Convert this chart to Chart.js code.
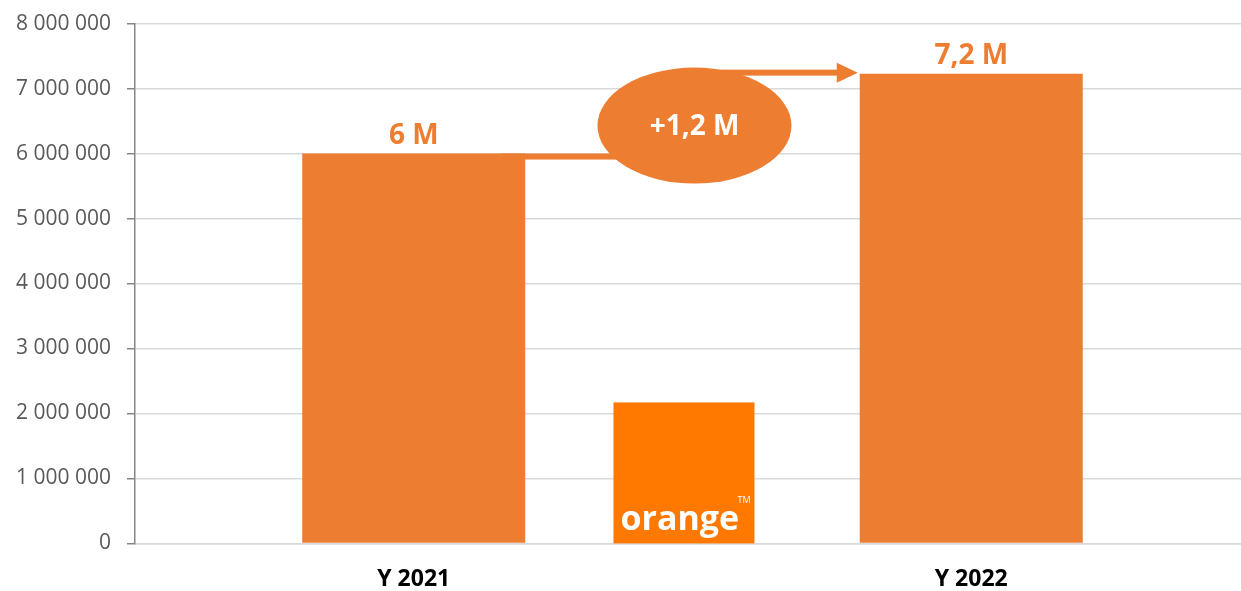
<!DOCTYPE html>
<html>
<head>
<meta charset="utf-8">
<script src="https://cdn.jsdelivr.net/npm/chart.js@4/dist/chart.umd.min.js"></script>
<style>
  html, body { margin: 0; padding: 0; background: #fff; overflow: hidden; }
  #wrap { width: 1250px; height: 596px; margin-top: -5px; }
</style>
</head>
<body>
<div id="wrap"><canvas id="growthChart" width="1250" height="596"></canvas></div>
<script>
// =====================
// Data
// =====================
const categories = ['Y 2021', 'Y 2022'];
const subscribers = [6000000, 7230000];
const valueLabels = ['6 M', '7,2 M'];
const deltaLabel = '+1,2 M';
const yTicks = { min: 0, max: 8000000, step: 1000000 };

const BAR_COLOR = '#ED7D31';
const LOGO_COLOR = '#FF7900';
const FONT = '"Open Sans", "Noto Sans", sans-serif';

// thousands with spaces: 8 000 000
const formatTick = (v) => String(v).replace(/\B(?=(\d{3})+(?!\d))/g, ' ');

// =====================
// Overlay: value labels, growth bubble + arrows, logo
// =====================
const overlayPlugin = {
  id: 'overlay',
  afterDatasetsDraw(chart) {
    const { ctx, scales: { x, y } } = chart;
    const bars = chart.getDatasetMeta(0).data;

    // value labels above bars
    ctx.save();
    ctx.fillStyle = BAR_COLOR;
    ctx.font = 'bold 28px ' + FONT;
    ctx.textAlign = 'center';
    ctx.textBaseline = 'alphabetic';
    bars.forEach((bar, i) => {
      ctx.fillText(valueLabels[i], bar.x, bar.y - 10);
    });
    ctx.restore();

    // bubble between the bars
    const b0 = bars[0], b1 = bars[1];
    const midX = (x.getPixelForValue(0) + x.getPixelForValue(1)) / 2;
    const cy = (b0.y + b1.y) / 2 + 12;
    const rx = 97, ry = 58;
    const lineW = 6;

    ctx.save();
    ctx.fillStyle = BAR_COLOR;
    // lower connector from the 2021 bar top to the bubble
    const startX = b0.x + b0.width / 2 - 24;
    ctx.fillRect(startX, b0.y, midX - startX, lineW);
    // upper arrow from the bubble to the 2022 bar top
    const arrowY = b1.y - 1;
    const tipX = b1.x - b1.width / 2 - 2;
    ctx.fillRect(midX, arrowY - lineW / 2, tipX - 20 - midX, lineW);
    ctx.beginPath();
    ctx.moveTo(tipX - 21, arrowY - 10);
    ctx.lineTo(tipX, arrowY);
    ctx.lineTo(tipX - 21, arrowY + 10);
    ctx.closePath();
    ctx.fill();
    // ellipse
    ctx.beginPath();
    ctx.ellipse(midX + 2, cy, rx, ry, 0, 0, Math.PI * 2);
    ctx.fill();
    ctx.fillStyle = '#fff';
    ctx.font = 'bold 28px ' + FONT;
    ctx.textAlign = 'center';
    ctx.textBaseline = 'middle';
    ctx.fillText(deltaLabel, midX + 2, cy + 1);
    ctx.restore();

    // logo square sitting on the baseline
    const size = 141;
    const lx = midX - 79;
    const ly = y.getPixelForValue(0) - size;
    ctx.save();
    ctx.fillStyle = LOGO_COLOR;
    ctx.fillRect(lx, ly, size, size);
    ctx.fillStyle = '#fff';
    ctx.font = 'bold 34px ' + FONT;
    ctx.textAlign = 'left';
    ctx.textBaseline = 'alphabetic';
    ctx.fillText('orange', lx + 7, ly + size - 13);
    ctx.font = '9px ' + FONT;
    ctx.fillText('TM', lx + 124, ly + size - 40);
    ctx.restore();
  }
};

// =====================
// Render Bar Chart
// =====================
const ctx = document.getElementById('growthChart').getContext('2d');
new Chart(ctx, {
  type: 'bar',
  data: {
    labels: categories,
    datasets: [{
      data: subscribers,
      backgroundColor: BAR_COLOR,
      borderWidth: 0,
      barPercentage: 0.4,
      categoryPercentage: 1.0
    }]
  },
  options: {
    responsive: false,
    animation: false,
    layout: { padding: { left: 0, top: 4, right: 0, bottom: -24 } },
    plugins: {
      legend: { display: false },
      tooltip: { enabled: false }
    },
    scales: {
      x: {
        grid: { display: false, drawTicks: false },
        border: { display: true, color: '#D9D9D9', width: 1.5 },
        ticks: {
          color: '#000',
          padding: 22,
          font: { family: FONT, size: 23, weight: 'bold' }
        }
      },
      y: {
        min: yTicks.min,
        max: yTicks.max,
        ticks: {
          stepSize: yTicks.step,
          color: '#595959',
          padding: 16,
          font: { family: FONT, size: 21 },
          callback: (v) => formatTick(v)
        },
        grid: {
          color: '#D9D9D9',
          lineWidth: 1.5,
          tickLength: 8,
          tickColor: '#868686',
          tickWidth: 1.5
        },
        border: { display: true, color: '#868686', width: 1.5 }
      }
    }
  },
  plugins: [overlayPlugin]
});
</script>
</body>
</html>
